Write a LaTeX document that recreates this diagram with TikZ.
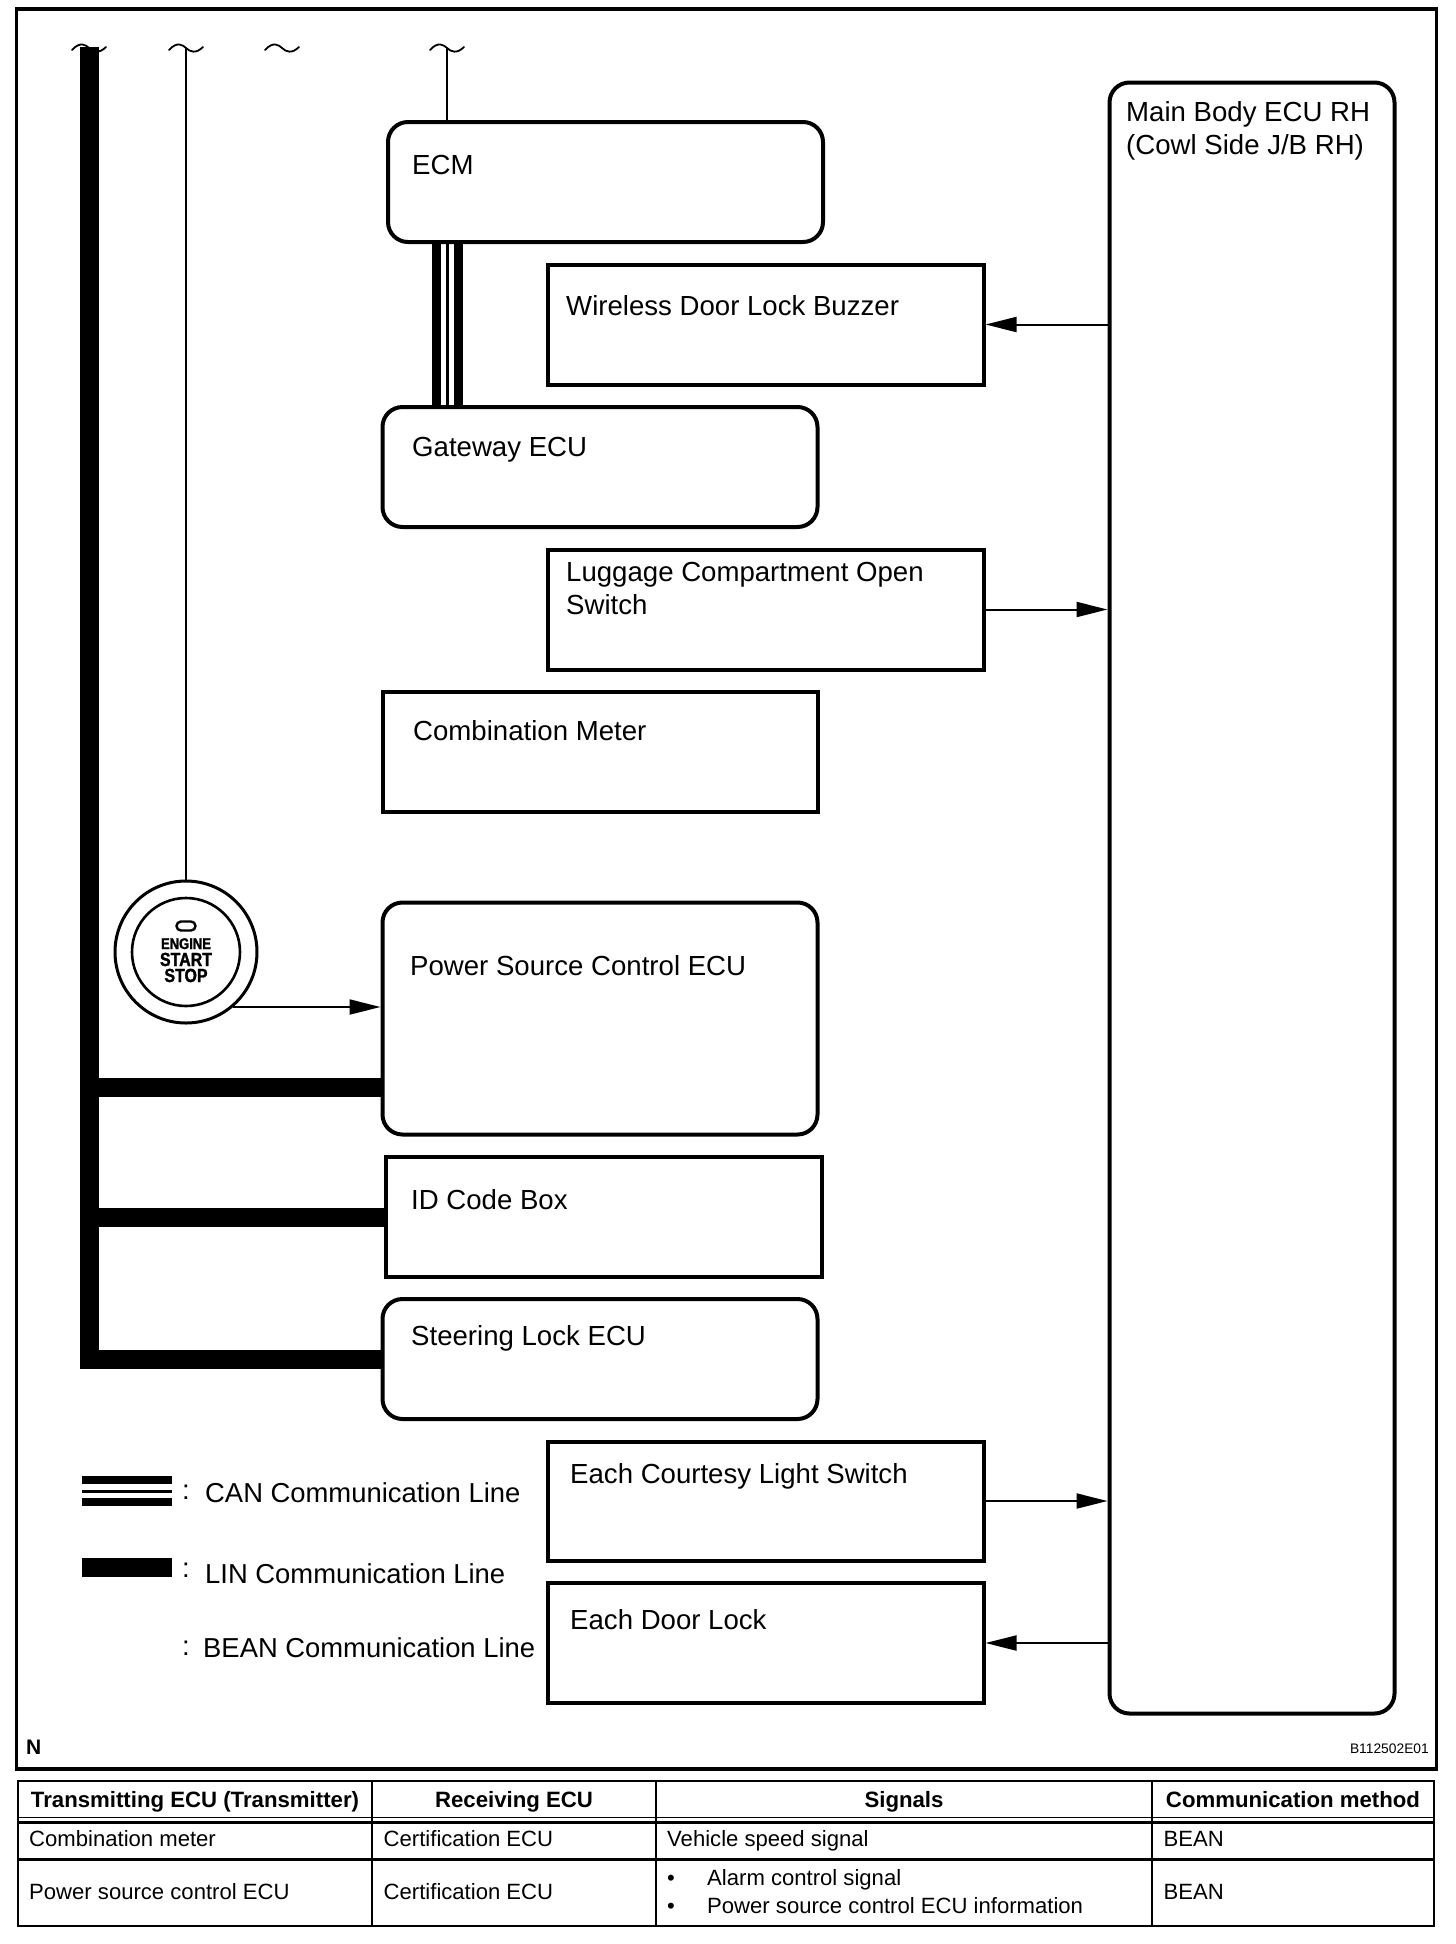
\documentclass[tikz,border=0pt]{standalone}
\usepackage{fontspec}
\setmainfont{Liberation Sans}
\newfontfamily\btnfont[BoldFeatures={FakeStretch=0.84,FakeBold=1.5}]{Liberation Sans}
\usetikzlibrary{arrows.meta,calc}
\tikzset{
  x=1pt,y=-1pt,
  sq/.style={rectangle,draw=black,line width=4pt,inner sep=0pt},
  rbox/.style={sq,rounded corners=20pt},
  lbl/.style={anchor=base west,inner sep=0pt,font=\fontsize{27.6}{33}\selectfont,align=left},
  leg/.style={anchor=base west,inner sep=0pt,font=\fontsize{27.4}{32}\selectfont},
  cell/.style={anchor=base west,inner sep=0pt,font=\fontsize{22.1}{26}\selectfont},
  head/.style={anchor=base,inner sep=0pt,font=\fontsize{22.2}{26}\selectfont\bfseries},
  sig/.style={draw=black,line width=2pt,-{Triangle[length=31pt,width=15pt]}},
  lin/.style={draw=black,line width=19pt},
  canthick/.style={draw=black,line width=8.5pt},
  canthin/.style={draw=black,line width=3pt},
  wire/.style={draw=black,line width=1.8pt},
  tilde/.style={draw=black,line width=1.8pt,line cap=round},
  tbl/.style={draw=black,line width=2pt},
  btn/.style={anchor=base,inner sep=0pt},
}
\newcommand{\squig}[1]{\draw[tilde] ($(#1)+(-17,2)$) .. controls ($(#1)+(-9,-7)$) and ($(#1)+(-3,-3)$) .. (#1) .. controls ($(#1)+(4,4)$) and ($(#1)+(10,6)$) .. ($(#1)+(17,-1)$);}
\begin{document}
\begin{tikzpicture}
\useasboundingbox (0,0) rectangle (1456,1944);
\fill[white] (0,0) rectangle (1456,1944);
% frame
\node[rectangle,draw=black,line width=3.2pt,inner sep=0pt,minimum width=1420pt,minimum height=1760pt] (frame) at (726.5,889) {};
% boxes
\node[rbox,minimum width=285pt,minimum height=1631pt] (main) at (1252,898) {};
\node[rbox,minimum width=435pt,minimum height=120pt] (ecm) at (605.5,182) {};
\node[rbox,minimum width=435pt,minimum height=120pt] (gw) at (600,467) {};
\node[sq,minimum width=436pt,minimum height=120pt] (wb) at (765.5,324.5) {};
\node[sq,minimum width=436pt,minimum height=120pt] (lug) at (765.5,609.5) {};
\node[sq,minimum width=435pt,minimum height=120pt] (cm) at (600,752) {};
\node[rbox,minimum width=435pt,minimum height=232pt] (psc) at (600,1018.5) {};
\node[sq,minimum width=436pt,minimum height=120pt] (idb) at (603.5,1217) {};
\node[rbox,minimum width=435pt,minimum height=120pt] (sl) at (600,1359) {};
\node[sq,minimum width=436pt,minimum height=119pt] (cl) at (765.5,1501) {};
\node[sq,minimum width=436pt,minimum height=120pt] (dl) at (765.5,1643) {};
% labels
\node[lbl] (tmain) at (1126,121) {Main Body ECU RH};
\node[lbl] (tmain2) at (1126,154) {(Cowl Side J/B RH)};
\node[lbl] (tecm) at (412,174) {ECM};
\node[lbl] (twb) at (566,315) {Wireless Door Lock Buzzer};
\node[lbl] (tgw) at (412,456) {Gateway ECU};
\node[lbl] (tlug) at (566,581) {Luggage Compartment Open};
\node[lbl] (tlug2) at (566,614) {Switch};
\node[lbl] (tcm) at (413,740) {Combination Meter};
\node[lbl] (tpsc) at (410,975) {Power Source Control ECU};
\node[lbl] (tid) at (411,1209) {ID Code Box};
\node[lbl] (tsl) at (411,1345) {Steering Lock ECU};
\node[lbl] (tcl) at (570,1483) {Each Courtesy Light Switch};
\node[lbl] (tdl) at (570,1629) {Each Door Lock};
% tildes and wires
\coordinate (s1) at (89,48);
\coordinate (s2) at (186,48);
\coordinate (s3) at (282,48);
\coordinate (s4) at (447,48);
\squig{s1}\squig{s2}\squig{s3}\squig{s4}
% start button
\node[circle,draw=black,line width=3pt,minimum size=142pt,inner sep=0pt] (outer) at (186,952) {};
\node[circle,draw=black,line width=2.6pt,minimum size=108pt,inner sep=0pt] (inner) at (186,952) {};
\node[rectangle,rounded corners=4.5pt,draw=black,line width=2.4pt,minimum width=19pt,minimum height=9pt,inner sep=0pt] (lamp) at (186,926) {};
\node[btn,font=\btnfont\bfseries\fontsize{15.5}{18}\selectfont] (be) at (186,949) {ENGINE};
\node[btn,font=\btnfont\bfseries\fontsize{19}{20}\selectfont] (bs) at (186,966) {START};
\node[btn,font=\btnfont\bfseries\fontsize{19}{20}\selectfont] (bp) at (186,982) {STOP};
\draw[wire] (s2) -- (outer.north);
\draw[wire,line width=2.2pt] (s4) -- (s4 |- ecm.north);
% LIN bus
\coordinate (bustop) at (89.5,47);
\coordinate (busbot) at (89.5,1369);
\draw[lin] (bustop) -- (busbot);
\draw[lin] (80,1359.5) -- (sl.west |- 0,1359.5);
\draw[lin] (89.5,1087.5) -- (psc.west |- 0,1087.5);
\draw[lin] (89.5,1217.5) -- (idb.west |- 0,1217.5);
% CAN
\coordinate (can1) at (436.5,300);
\coordinate (can2) at (447.5,300);
\coordinate (can3) at (458.5,300);
\draw[canthick] (can1 |- ecm.south) -- (can1 |- gw.north);
\draw[canthin] (can2 |- ecm.south) -- (can2 |- gw.north);
\draw[canthick] (can3 |- ecm.south) -- (can3 |- gw.north);
% signal arrows
\draw[sig] (main.west |- wb.east) -- (wb.east);
\draw[sig] (lug.east) -- (main.west |- lug.east);
\draw[sig] (cl.east) -- (main.west |- cl.east);
\draw[sig] (main.west |- dl.east) -- (dl.east);
\coordinate (bout) at (233,1007);
\draw[sig] (bout) -- (psc.west |- bout);
% legend
\coordinate (la) at (82,1480);
\coordinate (lb) at (172,1480);
\draw[canthick] (la) -- (lb);
\draw[canthin] (82,1491.5) -- (172,1491.5);
\draw[canthick] (82,1502) -- (172,1502);
\draw[lin] (82,1567.5) -- (172,1567.5);
\node[leg] (c1) at (182,1499) {:};
\node[leg] (c2) at (182,1577) {:};
\node[leg] (c3) at (182,1655) {:};
\node[leg] (lcan) at (205,1502) {CAN Communication Line};
\node[leg] (llin) at (205,1583) {LIN Communication Line};
\node[leg] (lbean) at (203,1657) {BEAN Communication Line};
% corner marks
\node[anchor=base west,inner sep=0pt,font=\fontsize{21}{24}\selectfont\bfseries] (n) at (26,1754) {N};
\node[anchor=base east,inner sep=0pt,font=\fontsize{13.8}{16}\selectfont] (code) at (1429,1753) {B112502E01};
% table
\node[rectangle,draw=black,line width=2.6pt,inner sep=0pt,minimum width=1416pt,minimum height=145pt] (t) at (726,1853.5) {};
\draw[tbl,line width=1.6pt] (t.west |- 0,1817.5) -- (t.east |- 0,1817.5);
\draw[tbl,line width=3pt] (t.west |- 0,1822.5) -- (t.east |- 0,1822.5);
\draw[tbl,line width=3pt] (t.west |- 0,1859) -- (t.east |- 0,1859);
\draw[tbl] (372,1781) -- (372,1926);
\draw[tbl] (656,1781) -- (656,1926);
\draw[tbl] (1152,1781) -- (1152,1926);
\node[head] (h1) at (195,1807) {Transmitting ECU (Transmitter)};
\node[head] (h2) at (514,1807) {Receiving ECU};
\node[head] (h3) at (904,1807) {Signals};
\node[head] (h4) at (1293,1807) {Communication method};
\node[cell] (a1) at (29,1846) {Combination meter};
\node[cell] (a2) at (383.5,1846) {Certification ECU};
\node[cell] (a3) at (667,1846) {Vehicle speed signal};
\node[cell] (a4) at (1163.5,1846) {BEAN};
\node[cell] (b1) at (29,1899) {Power source control ECU};
\node[cell] (b2) at (383.5,1899) {Certification ECU};
\node[cell] (b3a) at (667,1885) {•};
\node[cell] (b3b) at (707,1885) {Alarm control signal};
\node[cell] (b3c) at (667,1913) {•};
\node[cell] (b3d) at (707,1913) {Power source control ECU information};
\node[cell] (b4) at (1163.5,1899) {BEAN};
\end{tikzpicture}
\end{document}
